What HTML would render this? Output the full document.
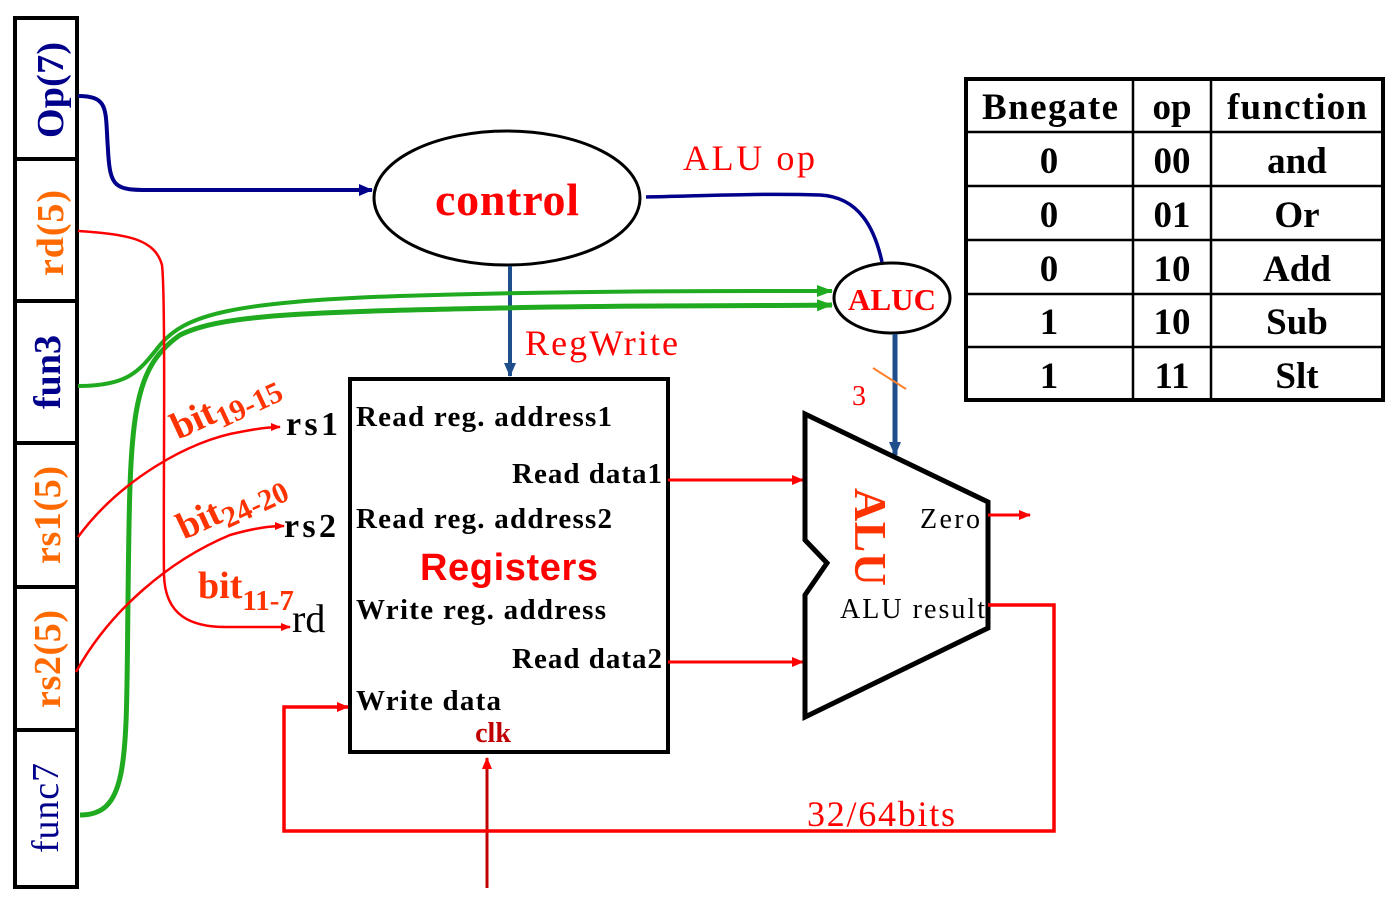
<!DOCTYPE html>
<html><head><meta charset="utf-8"><style>
html,body{margin:0;padding:0;background:#fff;}
svg{display:block;}
text{font-family:"Liberation Serif",serif;}
</style></head><body>
<svg width="1394" height="903" viewBox="0 0 1394 903" xmlns="http://www.w3.org/2000/svg">
<defs>
<marker id="ar" markerWidth="10" markerHeight="10" refX="9" refY="5" orient="auto" markerUnits="userSpaceOnUse"><path d="M0,1 L10,5 L0,9 Z" fill="#f00"/></marker>
<marker id="ab" markerWidth="14" markerHeight="14" refX="13" refY="7" orient="auto" markerUnits="userSpaceOnUse"><path d="M0,1 L14,7 L0,13 Z" fill="#00008b"/></marker>
<marker id="ag" markerWidth="16" markerHeight="14" refX="15" refY="7" orient="auto" markerUnits="userSpaceOnUse"><path d="M0,1 L16,7 L0,13 Z" fill="#1faa1f"/></marker>
<marker id="as" markerWidth="14" markerHeight="14" refX="13" refY="7" orient="auto" markerUnits="userSpaceOnUse"><path d="M0,1 L14,7 L0,13 Z" fill="#1f4e8c"/></marker>
<marker id="ar2" markerWidth="12" markerHeight="12" refX="11" refY="6" orient="auto" markerUnits="userSpaceOnUse"><path d="M0,1 L12,6 L0,11 Z" fill="#f00"/></marker>
</defs>

<rect x="15" y="18" width="62" height="869" fill="none" stroke="#000" stroke-width="4"/>
<g stroke="#000" stroke-width="4">
<line x1="13" y1="159" x2="79" y2="159"/><line x1="13" y1="301" x2="79" y2="301"/>
<line x1="13" y1="443" x2="79" y2="443"/><line x1="13" y1="587" x2="79" y2="587"/>
<line x1="13" y1="730" x2="79" y2="730"/>
</g>
<g font-size="38" text-anchor="middle">
<text transform="translate(63,90) rotate(-90)" fill="#00008b" font-weight="bold" textLength="96">Op(7)</text>
<text transform="translate(63,233) rotate(-90)" fill="#ff6a00" font-weight="bold" textLength="86">rd(5)</text>
<text transform="translate(60,372) rotate(-90)" fill="#00008b" font-weight="bold" textLength="74">fun3</text>
<text transform="translate(60,515) rotate(-90)" fill="#ff6a00" font-weight="bold" textLength="98">rs1(5)</text>
<text transform="translate(60,659) rotate(-90)" fill="#ff6a00" font-weight="bold" textLength="98">rs2(5)</text>
<text transform="translate(58,808) rotate(-90)" fill="#00008b" textLength="90">func7</text>
</g>

<path d="M78,96 C110,96 105,110 108,150 C110,188 115,190 150,190 L372,190" fill="none" stroke="#00008b" stroke-width="4" marker-end="url(#ab)"/>
<ellipse cx="507" cy="198" rx="133" ry="67" fill="#fff" stroke="#000" stroke-width="3"/>
<text x="507" y="215" fill="#f00" font-size="46" font-weight="bold" text-anchor="middle" textLength="144">control</text>
<path d="M646,197 C700,196 760,193 820,195 C860,197 875,230 882,262" fill="none" stroke="#00008b" stroke-width="3.5"/>
<text x="683" y="170" fill="#f00" font-size="36" textLength="132">ALU op</text>
<line x1="510" y1="266" x2="510" y2="376" stroke="#1f4e8c" stroke-width="4" marker-end="url(#as)"/>
<text x="525" y="355" fill="#f00" font-size="36" textLength="153">RegWrite</text>

<path d="M78,386 C130,386 140,370 160,345 C185,315 230,302 400,296 C600,290 750,291 832,291" fill="none" stroke="#1faa1f" stroke-width="4" marker-end="url(#ag)"/>
<path d="M80,815 C130,815 126,760 128,600 C130,420 130,370 180,335 C220,315 300,312 500,308 C650,305 760,306 832,305" fill="none" stroke="#1faa1f" stroke-width="5" marker-end="url(#ag)"/>

<ellipse cx="892" cy="298" rx="58" ry="35" fill="#fff" stroke="#000" stroke-width="3"/>
<text x="892" y="310" fill="#f00" font-size="31" font-weight="bold" text-anchor="middle" textLength="88">ALUC</text>
<line x1="895" y1="334" x2="895" y2="455" stroke="#1f4e8c" stroke-width="5" marker-end="url(#as)"/>
<line x1="873" y1="368" x2="906" y2="389" stroke="#ff7f2a" stroke-width="2"/>
<text x="852" y="405" fill="#f00" font-size="28">3</text>

<path d="M78,231 C130,234 155,240 162,265 C166,300 163,520 164,575 C165,615 190,628 230,627 L290,627" fill="none" stroke="#f00" stroke-width="2.5" marker-end="url(#ar)"/>
<path d="M78,537 C120,480 190,440 240,432 C260,428 270,427 280,427" fill="none" stroke="#f00" stroke-width="2.5" marker-end="url(#ar)"/>
<path d="M76,672 C110,610 170,560 230,535 C255,528 270,526 284,526" fill="none" stroke="#f00" stroke-width="2.5" marker-end="url(#ar)"/>

<g font-weight="bold" fill="#ff3300">
<text transform="translate(178,440) rotate(-25)" font-size="38">bit<tspan font-size="30" dy="8">19-15</tspan></text>
<text transform="translate(184,540) rotate(-25)" font-size="38">bit<tspan font-size="30" dy="8">24-20</tspan></text>
<text x="198" y="598" font-size="38">bit<tspan font-size="29" dy="12">11-7</tspan></text>
</g>
<text x="286" y="435" font-size="34" font-weight="bold" textLength="52">rs1</text>
<text x="284" y="537" font-size="34" font-weight="bold" textLength="52">rs2</text>
<text x="292" y="632" font-size="40">rd</text>

<rect x="350" y="379" width="318" height="373" fill="#fff" stroke="#000" stroke-width="4"/>
<g font-size="29" font-weight="bold">
<text x="356" y="426" textLength="256">Read reg. address1</text>
<text x="662" y="483" text-anchor="end" textLength="150">Read data1</text>
<text x="356" y="528" textLength="256">Read reg. address2</text>
<text x="356" y="619" textLength="250">Write reg. address</text>
<text x="662" y="668" text-anchor="end" textLength="150">Read data2</text>
<text x="356" y="710" textLength="145">Write data</text>
</g>
<text x="509" y="580" fill="#f00" font-size="38" font-weight="bold" text-anchor="middle" style="font-family:'Liberation Sans',sans-serif" textLength="178">Registers</text>
<text x="493" y="742" fill="#c00000" font-size="28" font-weight="bold" text-anchor="middle">clk</text>
<line x1="487" y1="888" x2="487" y2="758" stroke="#c00000" stroke-width="3" marker-end="url(#ar2)"/>

<line x1="668" y1="480" x2="803" y2="480" stroke="#f00" stroke-width="3" marker-end="url(#ar2)"/>
<line x1="668" y1="662" x2="803" y2="662" stroke="#f00" stroke-width="3" marker-end="url(#ar2)"/>

<path d="M805,414 L988,502 L988,628 L805,717 L805,595 L827,563 L805,540 Z" fill="#fff" stroke="#000" stroke-width="5"/>
<text transform="translate(855,537) rotate(90)" fill="#ff3300" font-size="46" font-weight="bold" text-anchor="middle" textLength="98">ALU</text>
<text x="980" y="528" font-size="28" text-anchor="end" textLength="60">Zero</text>
<text x="840" y="618" font-size="28" textLength="145">ALU result</text>
<line x1="988" y1="515" x2="1030" y2="515" stroke="#f00" stroke-width="3" marker-end="url(#ar2)"/>

<polyline points="988,605 1054,605 1054,831 284,831 284,707 348,707" fill="none" stroke="#f00" stroke-width="3.5" marker-end="url(#ar2)"/>
<text x="807" y="826" fill="#f00" font-size="36" textLength="148">32/64bits</text>

<rect x="966" y="79" width="417" height="321" fill="#fff" stroke="#000" stroke-width="4"/>
<g stroke="#000" stroke-width="2.5">
<line x1="1133" y1="79" x2="1133" y2="400"/><line x1="1211" y1="79" x2="1211" y2="400"/>
<line x1="966" y1="132" x2="1383" y2="132"/><line x1="966" y1="186" x2="1383" y2="186"/>
<line x1="966" y1="240" x2="1383" y2="240"/><line x1="966" y1="294" x2="1383" y2="294"/>
<line x1="966" y1="347" x2="1383" y2="347"/>
</g>
<g font-size="37" font-weight="bold" text-anchor="middle">
<text x="1050" y="119" textLength="136">Bnegate</text><text x="1172" y="119">op</text><text x="1297" y="119" textLength="140">function</text>
<text x="1049" y="173">0</text><text x="1172" y="173">00</text><text x="1297" y="173">and</text>
<text x="1049" y="227">0</text><text x="1172" y="227">01</text><text x="1297" y="227">Or</text>
<text x="1049" y="281">0</text><text x="1172" y="281">10</text><text x="1297" y="281">Add</text>
<text x="1049" y="334">1</text><text x="1172" y="334">10</text><text x="1297" y="334">Sub</text>
<text x="1049" y="388">1</text><text x="1172" y="388">11</text><text x="1297" y="388">Slt</text>
</g>
</svg>
</body></html>
